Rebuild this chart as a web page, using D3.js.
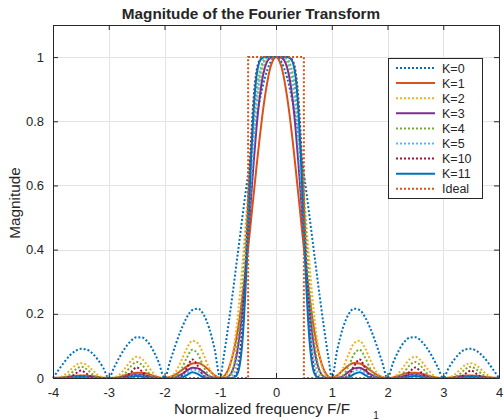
<!DOCTYPE html>
<html>
<head>
<meta charset="utf-8">
<script src="https://cdn.jsdelivr.net/npm/d3@7"></script>
<style>
  body { margin: 0; background: #fff; }
  svg text { font-family: "Liberation Sans", Arial, Helvetica, sans-serif; fill: #262626; }
</style>
</head>
<body>
<svg id="chart" width="504" height="420"></svg>
<script>
// Normalized frequency grid F/F1 (finer through the main lobe)
const freq = [
  -4,-3.9,-3.8,-3.7,-3.6,-3.5,-3.4,-3.3,-3.2,-3.1,
  -3,-2.9,-2.8,-2.7,-2.6,-2.5,-2.4,-2.3,-2.2,-2.1,
  -2,-1.9,-1.8,-1.7,-1.6,-1.5,-1.4,-1.3,-1.2,-1.1,
  -1,-0.95,-0.9,-0.85,-0.8,-0.75,-0.7,-0.65,-0.6,-0.55,-0.5,-0.45,-0.4,-0.35,-0.3,-0.25,-0.2,-0.15,-0.1,-0.05,
  0,
  0.05,0.1,0.15,0.2,0.25,0.3,0.35,0.4,0.45,0.5,0.55,0.6,0.65,0.7,0.75,0.8,0.85,0.9,0.95,1,
  1.1,1.2,1.3,1.4,1.5,1.6,1.7,1.8,1.9,2,
  2.1,2.2,2.3,2.4,2.5,2.6,2.7,2.8,2.9,3,
  3.1,3.2,3.3,3.4,3.5,3.6,3.7,3.8,3.9,4
];

// Magnitude of the transform for each interpolation order K
const magK0 = [
  0,0.025,0.049,0.070,0.084,0.091,0.089,0.078,0.058,0.032,
  0,0.034,0.067,0.095,0.116,0.127,0.126,0.112,0.085,0.047,
  0,0.052,0.104,0.151,0.189,0.212,0.216,0.198,0.156,0.089,
  0,0.052,0.109,0.170,0.234,0.300,0.368,0.436,0.505,0.572,0.637,0.699,0.757,0.810,0.858,0.900,0.935,0.963,0.984,0.996,
  1,
  0.996,0.984,0.963,0.935,0.900,0.858,0.810,0.757,0.699,0.637,0.572,0.505,0.436,0.368,0.300,0.234,0.170,0.109,0.052,0,
  0.089,0.156,0.198,0.216,0.212,0.189,0.151,0.104,0.052,0,
  0.047,0.085,0.112,0.126,0.127,0.116,0.095,0.067,0.034,0,
  0.032,0.058,0.078,0.089,0.091,0.084,0.070,0.049,0.025,0
];
const magK1 = [
  0,0.001,0.002,0.005,0.007,0.008,0.008,0.006,0.003,0.001,
  0,0.001,0.004,0.009,0.014,0.016,0.016,0.013,0.007,0.002,
  0,0.003,0.011,0.023,0.036,0.045,0.047,0.039,0.024,0.008,
  0,0.003,0.012,0.029,0.055,0.090,0.135,0.190,0.255,0.327,0.405,0.488,0.573,0.657,0.737,0.811,0.875,0.928,0.968,0.992,
  1,
  0.992,0.968,0.928,0.875,0.811,0.737,0.657,0.573,0.488,0.405,0.327,0.255,0.190,0.135,0.090,0.055,0.029,0.012,0.003,0,
  0.008,0.024,0.039,0.047,0.045,0.036,0.023,0.011,0.003,0,
  0.002,0.007,0.013,0.016,0.016,0.014,0.009,0.004,0.001,0,
  0.001,0.003,0.006,0.008,0.008,0.007,0.005,0.002,0.001,0
];
const magK2 = [
  0,0.001,0.009,0.023,0.039,0.046,0.041,0.026,0.010,0.002,
  0,0.002,0.012,0.032,0.054,0.066,0.059,0.038,0.015,0.002,
  0,0.003,0.019,0.053,0.092,0.116,0.108,0.073,0.031,0.005,
  0,0.001,0.007,0.022,0.053,0.102,0.170,0.256,0.357,0.466,0.576,0.682,0.776,0.854,0.913,0.955,0.980,0.993,0.999,1,
  1,
  1,0.999,0.993,0.980,0.955,0.913,0.854,0.776,0.682,0.576,0.466,0.357,0.256,0.170,0.102,0.053,0.022,0.007,0.001,0,
  0.005,0.031,0.073,0.108,0.116,0.092,0.053,0.019,0.003,0,
  0.002,0.015,0.038,0.059,0.066,0.054,0.032,0.012,0.002,0,
  0.002,0.010,0.026,0.041,0.046,0.039,0.023,0.009,0.001,0
];
const magK3 = [
  0,0,0.001,0.002,0.004,0.006,0.005,0.003,0.001,0,
  0,0,0.001,0.004,0.008,0.011,0.010,0.006,0.002,0,
  0,0,0.003,0.011,0.023,0.032,0.030,0.019,0.006,0.001,
  0,0,0.001,0.005,0.016,0.038,0.077,0.137,0.218,0.319,0.434,0.556,0.673,0.779,0.864,0.927,0.967,0.989,0.998,1,
  1,
  1,0.998,0.989,0.967,0.927,0.864,0.779,0.673,0.556,0.434,0.319,0.218,0.137,0.077,0.038,0.016,0.005,0.001,0,0,
  0.001,0.006,0.019,0.030,0.032,0.023,0.011,0.003,0,0,
  0,0.002,0.006,0.010,0.011,0.008,0.004,0.001,0,0,
  0,0.001,0.003,0.005,0.006,0.004,0.002,0.001,0,0
];
const magK4 = [
  0,0,0.002,0.011,0.026,0.035,0.028,0.013,0.003,0,
  0,0,0.003,0.016,0.037,0.050,0.040,0.019,0.004,0,
  0,0,0.005,0.026,0.063,0.088,0.074,0.036,0.008,0,
  0,0,0,0.004,0.015,0.042,0.100,0.174,0.284,0.417,0.558,0.693,0.807,0.893,0.949,0.980,0.994,0.999,1,1,
  1,
  1,1,0.999,0.994,0.980,0.949,0.893,0.807,0.693,0.558,0.417,0.284,0.174,0.100,0.042,0.015,0.004,0,0,0,
  0,0.008,0.036,0.074,0.088,0.063,0.026,0.005,0,0,
  0,0.004,0.019,0.040,0.050,0.037,0.016,0.003,0,0,
  0,0.003,0.013,0.028,0.035,0.026,0.011,0.002,0,0
];
const magK5 = [
  0,0,0,0.001,0.003,0.004,0.004,0.001,0,0,
  0,0,0,0.002,0.006,0.009,0.007,0.003,0,0,
  0,0,0.001,0.006,0.017,0.026,0.022,0.010,0.002,0,
  0,0,0,0.001,0.005,0.017,0.045,0.100,0.186,0.305,0.447,0.596,0.735,0.846,0.924,0.969,0.991,0.998,1,1,
  1,
  1,1,0.998,0.991,0.969,0.924,0.846,0.735,0.596,0.447,0.305,0.186,0.100,0.045,0.017,0.005,0.001,0,0,0,
  0,0.002,0.010,0.022,0.026,0.017,0.006,0.001,0,0,
  0,0,0.003,0.007,0.009,0.006,0.002,0,0,0,
  0,0,0.001,0.004,0.004,0.003,0.001,0,0,0
];
const magK10 = [
  0,0,0,0.002,0.013,0.023,0.014,0.002,0,0,
  0,0,0,0.003,0.018,0.033,0.020,0.003,0,0,
  0,0,0,0.005,0.031,0.058,0.037,0.007,0,0,
  0,0,0,0,0,0.004,0.019,0.066,0.169,0.332,0.539,0.733,0.876,0.956,0.989,0.998,1,1,1,1,
  1,
  1,1,1,1,0.998,0.989,0.956,0.876,0.733,0.539,0.332,0.169,0.066,0.019,0.004,0,0,0,0,0,
  0,0,0.007,0.037,0.058,0.031,0.005,0,0,0,
  0,0,0.003,0.020,0.033,0.018,0.003,0,0,0,
  0,0,0.002,0.014,0.023,0.013,0.002,0,0,0
];
const magK11 = [
  0,0,0,0,0.002,0.003,0.002,0,0,0,
  0,0,0,0,0.003,0.006,0.004,0.001,0,0,
  0,0,0,0.001,0.009,0.018,0.012,0.002,0,0,
  0,0,0,0,0,0.002,0.010,0.041,0.119,0.264,0.463,0.672,0.839,0.940,0.984,0.997,1,1,1,1,
  1,
  1,1,1,1,0.997,0.984,0.940,0.839,0.672,0.463,0.264,0.119,0.041,0.010,0.002,0,0,0,0,0,
  0,0,0.002,0.012,0.018,0.009,0.001,0,0,0,
  0,0,0.001,0.004,0.006,0.003,0,0,0,0,
  0,0,0,0.002,0.003,0.002,0,0,0,0
];

// Ideal low-pass response
const idealFreq = [-4, -0.5, -0.5, 0.5, 0.5, 4];
const idealMag = [0, 0, 1, 1, 0, 0];

const seriesNames = ["K=0", "K=1", "K=2", "K=3", "K=4", "K=5", "K=10", "K=11", "Ideal"];
const xTickValues = [-4, -3, -2, -1, 0, 1, 2, 3, 4];
const yTickValues = [0, 0.2, 0.4, 0.6, 0.8, 1];
const xTickLabels = ["-4", "-3", "-2", "-1", "0", "1", "2", "3", "4"];
const yTickLabels = ["0", "0.2", "0.4", "0.6", "0.8", "1"];

// Drawing styles, one per series
const DOT = "2,2";
const lineStyles = [
  { color: "#0072BD", dash: DOT },
  { color: "#D95319", dash: null },
  { color: "#EDB120", dash: DOT },
  { color: "#7E2F8E", dash: null },
  { color: "#77AC30", dash: DOT },
  { color: "#4DBEEE", dash: DOT },
  { color: "#A2142F", dash: DOT },
  { color: "#0072BD", dash: null },
  { color: "#D95319", dash: DOT }
];

const box = { left: 53, right: 499, top: 25, bottom: 378 };
const axisColor = "#262626";

const svg = d3.select("#chart");
const x = d3.scaleLinear().domain([-4, 4]).range([box.left, box.right]);
const y = d3.scaleLinear().domain([0, 1.1]).range([box.bottom, box.top]);

// grid
const grid = svg.append("g").attr("stroke", "#e3e3e3").attr("stroke-width", 1);
grid.selectAll("line.gx").data(xTickValues).join("line")
  .attr("x1", d => Math.round(x(d)) + 0.5).attr("x2", d => Math.round(x(d)) + 0.5)
  .attr("y1", box.top).attr("y2", box.bottom);
grid.selectAll("line.gy").data(yTickValues).join("line")
  .attr("y1", d => Math.round(y(d)) + 0.5).attr("y2", d => Math.round(y(d)) + 0.5)
  .attr("x1", box.left).attr("x2", box.right);

// curves
const curveSets = [magK0, magK1, magK2, magK3, magK4, magK5, magK10, magK11];
const plot = svg.append("g");
const line = d3.line()
  .x((d, i) => x(freq[i]))
  .y(d => y(d))
  .curve(d3.curveMonotoneX);

curveSets.forEach((vals, k) => {
  const st = lineStyles[k];
  plot.append("path")
    .attr("d", line(vals))
    .attr("fill", "none")
    .attr("stroke", st.color)
    .attr("stroke-width", 2)
    .attr("stroke-dasharray", st.dash);
});

const idealLine = d3.line()
  .x((d, i) => x(idealFreq[i]))
  .y(d => y(d));
plot.append("path")
  .attr("d", idealLine(idealMag))
  .attr("fill", "none")
  .attr("stroke", lineStyles[8].color)
  .attr("stroke-width", 2)
  .attr("stroke-dasharray", lineStyles[8].dash);

// axes (ticks inward on all four sides)
function styleAxis(g) {
  g.selectAll("path.domain").attr("stroke", axisColor).attr("stroke-width", 1);
  g.selectAll(".tick line").attr("stroke", axisColor);
  g.selectAll("text").attr("font-size", 13).attr("fill", axisColor)
    .attr("font-family", "Liberation Sans, Arial, Helvetica, sans-serif");
}
svg.append("g").attr("transform", `translate(0,${box.bottom})`)
  .call(d3.axisBottom(x).tickValues(xTickValues).tickSize(-5).tickSizeOuter(0).tickPadding(10)
    .tickFormat((d, i) => xTickLabels[i]))
  .call(styleAxis);
svg.append("g").attr("transform", `translate(0,${box.top})`)
  .call(d3.axisTop(x).tickValues(xTickValues).tickSize(-5).tickSizeOuter(0).tickFormat(""))
  .call(styleAxis);
svg.append("g").attr("transform", `translate(${box.left},0)`)
  .call(d3.axisLeft(y).tickValues(yTickValues).tickSize(-5).tickSizeOuter(0).tickPadding(9)
    .tickFormat((d, i) => yTickLabels[i]))
  .call(styleAxis);
svg.append("g").attr("transform", `translate(${box.right},0)`)
  .call(d3.axisRight(y).tickValues(yTickValues).tickSize(-5).tickSizeOuter(0).tickFormat(""))
  .call(styleAxis);

// title and axis labels
svg.append("text").attr("x", 251).attr("y", 19).attr("text-anchor", "middle")
  .attr("font-size", 15.3).attr("font-weight", "bold").attr("fill", "#000")
  .text("Magnitude of the Fourier Transform");
svg.append("text").attr("x", 262).attr("y", 414).attr("text-anchor", "middle")
  .attr("font-size", 15.3)
  .text("Normalized frequency F/F");
svg.append("text").attr("x", 376).attr("y", 419).attr("text-anchor", "middle")
  .attr("font-size", 10)
  .text("1");
svg.append("text").attr("transform", "translate(20,203) rotate(-90)").attr("text-anchor", "middle")
  .attr("font-size", 15.3)
  .text("Magnitude");

// legend
const legend = svg.append("g");
legend.append("rect").attr("x", 388.5).attr("y", 58.5).attr("width", 94).attr("height", 140)
  .attr("fill", "#fff").attr("stroke", axisColor).attr("stroke-width", 1);
seriesNames.forEach((name, i) => {
  const yy = 68 + i * 15.1;
  const st = lineStyles[i];
  legend.append("line").attr("x1", 396).attr("x2", 435).attr("y1", yy).attr("y2", yy)
    .attr("stroke", st.color).attr("stroke-width", 2).attr("stroke-dasharray", st.dash);
  legend.append("text").attr("x", 442).attr("y", yy).attr("dy", "0.36em")
    .attr("font-size", 12.5).attr("fill", "#000").text(name);
});
</script>
</body>
</html>
